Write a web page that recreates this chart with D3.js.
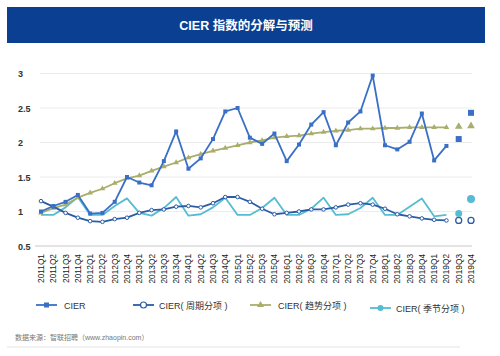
<!DOCTYPE html>
<html><head><meta charset="utf-8">
<script src="https://cdn.jsdelivr.net/npm/d3@7"></script>
<style>
html,body{margin:0;padding:0;background:#fff;}
svg{display:block;font-family:"Liberation Sans",Arial,"Noto Sans CJK SC",sans-serif;}
</style></head>
<body><svg id="c" width="500" height="356"></svg>
<script>
const categories = ["2011Q1","2011Q2","2011Q3","2011Q4","2012Q1","2012Q2","2012Q3","2012Q4","2013Q1","2013Q2","2013Q3","2013Q4","2014Q1","2014Q2","2014Q3","2014Q4","2015Q1","2015Q2","2015Q3","2015Q4","2016Q1","2016Q2","2016Q3","2016Q4","2017Q1","2017Q2","2017Q3","2017Q4","2018Q1","2018Q2","2018Q3","2018Q4","2019Q1","2019Q2","2019Q3","2019Q4"];
const forecastCats = ["2019Q3","2019Q4"];
const cier = [1.00,1.08,1.14,1.24,0.97,0.98,1.14,1.50,1.42,1.38,1.73,2.16,1.62,1.77,2.05,2.45,2.50,2.07,1.98,2.13,1.73,1.97,2.26,2.44,1.96,2.29,2.45,2.97,1.96,1.90,2.01,2.42,1.74,1.95,2.05,2.43];
const cycle = [1.15,1.07,0.98,0.91,0.86,0.85,0.89,0.91,0.98,1.02,1.03,1.07,1.08,1.06,1.12,1.21,1.21,1.14,1.04,0.96,0.98,1.00,1.03,1.03,1.06,1.10,1.12,1.10,1.04,0.96,0.93,0.90,0.88,0.87,0.87,0.87];
const trend = [0.98,1.05,1.10,1.20,1.27,1.33,1.41,1.48,1.52,1.59,1.65,1.71,1.78,1.83,1.88,1.92,1.96,2.00,2.03,2.07,2.09,2.10,2.13,2.15,2.17,2.18,2.20,2.20,2.21,2.21,2.22,2.22,2.22,2.22,2.23,2.24];
const season = [0.95,0.95,1.06,1.21,0.95,0.95,1.08,1.19,0.98,0.94,1.05,1.21,0.94,0.96,1.06,1.20,0.95,0.95,1.05,1.20,0.95,0.95,1.04,1.20,0.95,0.96,1.05,1.20,0.95,0.95,1.07,1.19,0.93,0.95,0.97,1.18];
const yTicks = [0.5,1,1.5,2,2.5,3];
const seriesNames = ["CIER","CIER( 周期分项 )","CIER( 趋势分项 )","CIER( 季节分项 )"];
const title = "CIER 指数的分解与预测";
const source = "数据来源：智联招聘（www.zhaopin.com）";

const svg = d3.select("#c");
const x = d3.scalePoint().domain(categories).range([41, 471]);
const y = d3.scaleLinear().domain([0.5, 3]).range([246, 73.5]);

// title bar
svg.append("rect").attr("x",7).attr("y",7).attr("width",478).attr("height",36).attr("fill","#0a3f92");
svg.append("text").attr("x",246).attr("y",29.5).attr("text-anchor","middle").attr("fill","#fff")
  .attr("font-size",12.5).attr("font-weight","bold").text(title);

// grid
svg.append("g").selectAll("line").data(yTicks).join("line")
  .attr("x1",d=>d===0.5?35:40).attr("x2",472)
  .attr("y1",d=>y(d)).attr("y2",d=>y(d))
  .attr("stroke",d=>d===0.5?"#c8c8c8":"#ececec").attr("stroke-width",1);
svg.append("g").selectAll("text").data(yTicks).join("text")
  .attr("x",18).attr("y",d=>y(d)+3.5).attr("font-size",9).attr("font-weight","bold").attr("fill","#333")
  .text(d=>d);

// x labels
svg.append("g").selectAll("text").data(categories).join("text")
  .attr("transform",d=>`translate(${x(d)+3},254) rotate(-90)`)
  .attr("text-anchor","end").attr("font-size",8.3).attr("fill","#222").text(d=>d);

const colors = {cier:"#3a6fc6", cycle:"#2b5ca6", trend:"#a9ae6c", season:"#55bcd4"};
const isF = c => forecastCats.includes(c);
function pts(vals){ return categories.map((c,i)=>({c, v:vals[i], f:isF(c)})); }
const line = d3.line().x(d=>x(d.c)).y(d=>y(d.v));

function drawLine(vals,color){
  svg.append("path").datum(pts(vals).filter(d=>!d.f)).attr("d",line)
    .attr("fill","none").attr("stroke",color).attr("stroke-width",1.8).attr("stroke-linejoin","round");
}
const tri = d3.symbol().type(d3.symbolTriangle);

// seasonal
drawLine(season, colors.season);
// trend
drawLine(trend, colors.trend);
svg.append("g").selectAll("path").data(pts(trend)).join("path")
  .attr("transform",d=>`translate(${x(d.c)},${y(d.v)})`)
  .attr("d",d=>tri.size(d.f?26:14)()).attr("fill",colors.trend);
// cycle
drawLine(cycle, colors.cycle);
svg.append("g").selectAll("circle").data(pts(cycle)).join("circle")
  .attr("cx",d=>x(d.c)).attr("cy",d=>y(d.v)).attr("r",d=>d.f?3:1.8)
  .attr("fill","#fff").attr("stroke",colors.cycle).attr("stroke-width",d=>d.f?1.3:1);
// seasonal forecast markers
svg.append("g").selectAll("circle").data(pts(season).filter(d=>d.f)).join("circle")
  .attr("cx",d=>x(d.c)).attr("cy",d=>y(d.v)).attr("r",d=>d.c==="2019Q4"?4:3.5).attr("fill",colors.season);
// cier
drawLine(cier, colors.cier);
svg.append("g").selectAll("rect").data(pts(cier)).join("rect")
  .attr("x",d=>x(d.c)-(d.f?3:2)).attr("y",d=>y(d.v)-(d.f?3:2))
  .attr("width",d=>d.f?6:4).attr("height",d=>d.f?6:4).attr("fill",colors.cier);

// legend
const legend = [
  {name:seriesNames[0], color:colors.cier, m:"sq", x1:36, tx:64, y:305},
  {name:seriesNames[1], color:colors.cycle, m:"oc", x1:133, tx:159, y:305},
  {name:seriesNames[2], color:colors.trend, m:"tri", x1:250, tx:278, y:305},
  {name:seriesNames[3], color:colors.season, m:"fc", x1:370, tx:396, y:308}
];
const lg = svg.append("g").selectAll("g").data(legend).join("g");
lg.append("line").attr("x1",d=>d.x1).attr("x2",d=>d.x1+21).attr("y1",d=>d.y).attr("y2",d=>d.y)
  .attr("stroke",d=>d.color).attr("stroke-width",1.8);
lg.each(function(d){
  const g = d3.select(this), cx = d.x1+10.5;
  if(d.m==="sq") g.append("rect").attr("x",cx-2.5).attr("y",d.y-2.5).attr("width",5).attr("height",5).attr("fill",d.color);
  if(d.m==="oc") g.append("circle").attr("cx",cx).attr("cy",d.y).attr("r",3).attr("fill","#fff").attr("stroke",d.color).attr("stroke-width",1.2);
  if(d.m==="tri") g.append("path").attr("transform",`translate(${cx},${d.y})`).attr("d",tri.size(22)()).attr("fill",d.color);
  if(d.m==="fc") g.append("circle").attr("cx",cx).attr("cy",d.y).attr("r",3).attr("fill",d.color);
});
lg.append("text").attr("x",d=>d.tx).attr("y",d=>d.y+3.5).attr("font-size",9).attr("fill","#333").text(d=>d.name);

// source + bottom line
svg.append("text").attr("x",15).attr("y",340).attr("font-size",7).attr("fill","#777").text(source);
svg.append("line").attr("x1",7).attr("x2",460).attr("y1",347).attr("y2",347).attr("stroke","#e4e4e4").attr("stroke-width",1);
</script></body></html>
